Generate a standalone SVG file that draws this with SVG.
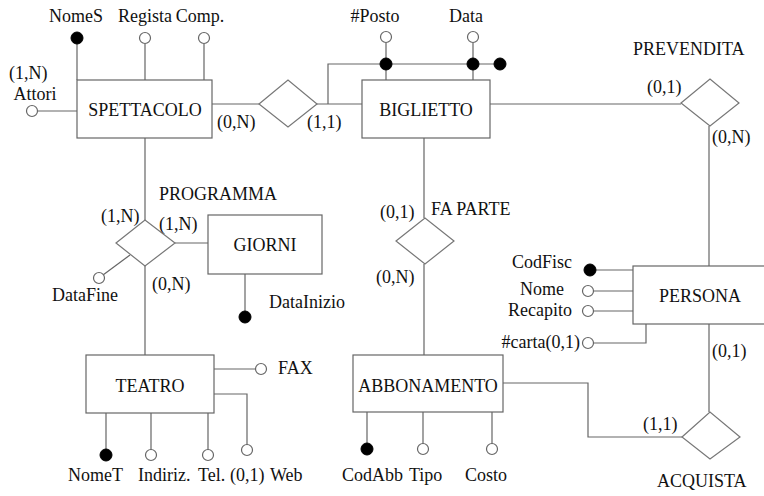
<svg xmlns="http://www.w3.org/2000/svg" width="764" height="496" viewBox="0 0 764 496">
<style>
text{font-family:"Liberation Serif","Times New Roman",serif;font-size:18px;fill:#111}
.c{text-anchor:middle}
.e{text-anchor:end}
.ent{fill:#fff;stroke:#666;stroke-width:1.2}
.rel{fill:#fff;stroke:#777;stroke-width:1.2}
.ln{fill:none;stroke:#666;stroke-width:1.2}
.ko{fill:#000;stroke:#000;stroke-width:1}
.at{fill:#fff;stroke:#666;stroke-width:1.2}
</style>
<rect width="764" height="496" fill="#fff"/>
<g id="connectors">
<path class="ln" d="M77,44V80M145,44V80M204,44V80M38,111H77"/>
<path class="ln" d="M212,104H259M317,104H362"/>
<path class="ln" d="M328,104V64H500"/>
<path class="ln" d="M386,43V80M473,43V80"/>
<path class="ln" d="M490,104H681"/>
<path class="ln" d="M709,126V266"/>
<path class="ln" d="M145,138V220M145,266V355"/>
<path class="ln" d="M175,243H208"/>
<path class="ln" d="M130,255L103,275"/>
<path class="ln" d="M245,274V317"/>
<path class="ln" d="M424,138V218M424,264V355"/>
<path class="ln" d="M590,270H633M594,291H633M594,311H633M594,343H646V324"/>
<path class="ln" d="M709,324V412"/>
<path class="ln" d="M503,383H588V437H682"/>
<path class="ln" d="M214,369H256M214,394H247V445M106,413V455M151,413V450M208,413V450"/>
<path class="ln" d="M367,412V449M423,412V444M492,412V444"/>
</g>
<g id="SPETTACOLO">
<rect class="ent" x="77" y="80" width="135" height="58"/>
<text class="c" x="145" y="116">SPETTACOLO</text>
<circle class="ko" cx="77" cy="38" r="6"/>
<circle class="at" cx="145" cy="38" r="5.5"/>
<circle class="at" cx="204" cy="38" r="5.5"/>
<circle class="at" cx="32" cy="111" r="5.5"/>
<text class="c" x="76" y="22">NomeS</text>
<text class="c" x="145" y="22">Regista</text>
<text class="c" x="200" y="22">Comp.</text>
<text x="9" y="79">(1,N)</text>
<text class="c" x="35" y="100">Attori</text>
</g>
<g id="rel-SB">
<polygon class="rel" points="259,104 288,80 317,104 288,127"/>
<text x="217" y="128">(0,N)</text>
<text x="307" y="128">(1,1)</text>
</g>
<g id="BIGLIETTO">
<rect class="ent" x="362" y="80" width="128" height="58"/>
<text class="c" x="426" y="116">BIGLIETTO</text>
<circle class="at" cx="386" cy="37" r="5.5"/>
<circle class="at" cx="473" cy="37" r="5.5"/>
<circle class="ko" cx="386" cy="64" r="6"/>
<circle class="ko" cx="473" cy="64" r="6"/>
<circle class="ko" cx="500" cy="64" r="6"/>
<text class="c" x="375" y="22">#Posto</text>
<text class="c" x="466" y="22">Data</text>
</g>
<g id="PREVENDITA">
<polygon class="rel" points="681,103 710,79 739,103 710,126"/>
<text x="633" y="55">PREVENDITA</text>
<text x="647" y="93">(0,1)</text>
<text x="712" y="143">(0,N)</text>
</g>
<g id="PROGRAMMA">
<polygon class="rel" points="116,243 145,220 175,243 145,266"/>
<circle class="at" cx="99" cy="278" r="5.5"/>
<text x="159" y="200">PROGRAMMA</text>
<text x="101" y="222">(1,N)</text>
<text x="159" y="230">(1,N)</text>
<text x="152" y="290">(0,N)</text>
<text class="c" x="85" y="301">DataFine</text>
</g>
<g id="GIORNI">
<rect class="ent" x="208" y="215" width="114" height="59"/>
<text class="c" x="265" y="251">GIORNI</text>
<circle class="ko" cx="245" cy="317" r="6"/>
<text x="269" y="308">DataInizio</text>
</g>
<g id="FAPARTE">
<polygon class="rel" points="396,241 425,218 454,241 425,264"/>
<text x="380" y="218">(0,1)</text>
<text x="431" y="215">FA PARTE</text>
<text x="376" y="283">(0,N)</text>
</g>
<g id="PERSONA">
<rect class="ent" x="633" y="266" width="140" height="58"/>
<text class="c" x="700" y="302">PERSONA</text>
<circle class="ko" cx="590" cy="270" r="6"/>
<circle class="at" cx="588" cy="291" r="5.5"/>
<circle class="at" cx="588" cy="311" r="5.5"/>
<circle class="at" cx="588" cy="343" r="5.5"/>
<text class="c" x="542" y="268">CodFisc</text>
<text class="c" x="542" y="295">Nome</text>
<text class="c" x="540" y="316">Recapito</text>
<text class="e" x="580" y="348">#carta(0,1)</text>
<text x="712" y="357">(0,1)</text>
</g>
<g id="TEATRO">
<rect class="ent" x="86" y="355" width="128" height="58"/>
<text class="c" x="150" y="392">TEATRO</text>
<circle class="at" cx="261" cy="369" r="5.5"/>
<text x="278" y="374">FAX</text>
<circle class="ko" cx="106" cy="455" r="6"/>
<circle class="at" cx="151" cy="455" r="5.5"/>
<circle class="at" cx="208" cy="455" r="5.5"/>
<circle class="at" cx="247" cy="450" r="5.5"/>
<text x="68" y="481">NomeT</text>
<text x="138" y="481">Indiriz.</text>
<text x="198" y="481">Tel.</text>
<text x="230" y="481">(0,1)</text>
<text x="270" y="481">Web</text>
</g>
<g id="ABBONAMENTO">
<rect class="ent" x="353" y="355" width="150" height="57"/>
<text class="c" x="428" y="392">ABBONAMENTO</text>
<circle class="ko" cx="367" cy="449" r="6"/>
<circle class="at" cx="423" cy="449" r="5.5"/>
<circle class="at" cx="492" cy="449" r="5.5"/>
<text x="342" y="481">CodAbb</text>
<text x="409" y="481">Tipo</text>
<text x="465" y="481">Costo</text>
</g>
<g id="ACQUISTA">
<polygon class="rel" points="682,437 710,412 740,437 710,459"/>
<text x="643" y="430">(1,1)</text>
<text x="657" y="487">ACQUISTA</text>
</g>
</svg>
